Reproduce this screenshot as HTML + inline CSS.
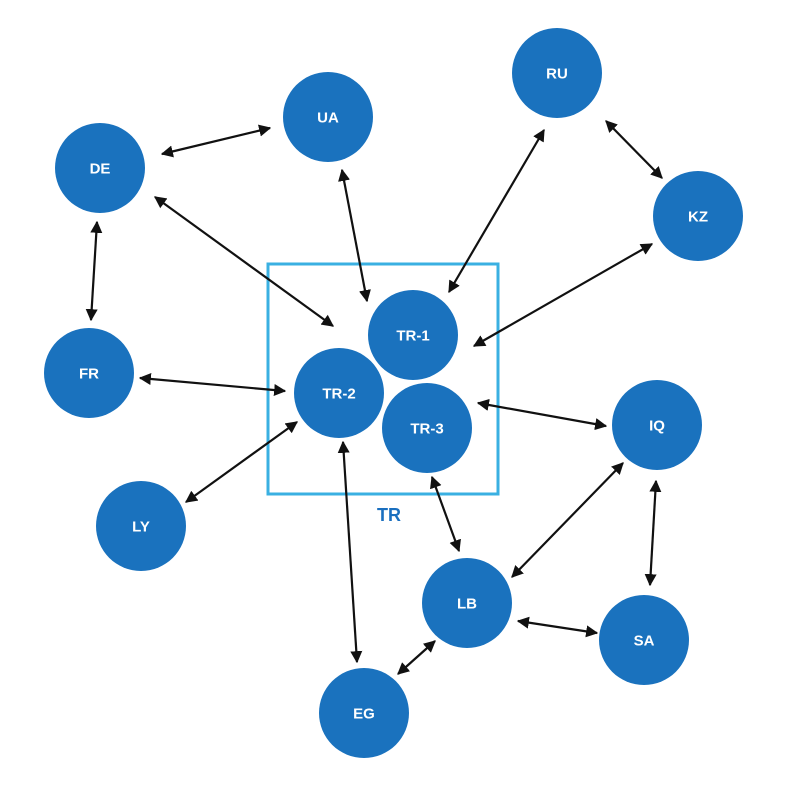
<!DOCTYPE html>
<html><head><meta charset="utf-8"><style>
html,body{margin:0;padding:0;background:#fff;}
svg{display:block;}
text{font-family:"Liberation Sans",sans-serif;font-weight:bold;font-size:15px;fill:#fff;text-anchor:middle;dominant-baseline:central;}
</style></head><body>
<svg width="790" height="790" viewBox="0 0 790 790" xmlns="http://www.w3.org/2000/svg">
<defs>
<marker id="a" viewBox="0 0 10 10" refX="9" refY="5" markerWidth="5.5" markerHeight="5.5" orient="auto-start-reverse" markerUnits="strokeWidth">
<path d="M0,0 L10,5 L0,10 z" fill="#111"/>
</marker>
</defs>
<rect x="268" y="264" width="230" height="230" fill="none" stroke="#3ab0e2" stroke-width="3"/>
<text x="389" y="515" style="fill:#1a6fbf;font-size:18px;">TR</text>
<g fill="#1a72be">
<circle cx="557" cy="73" r="45"/>
<circle cx="328" cy="117" r="45"/>
<circle cx="100" cy="168" r="45"/>
<circle cx="698" cy="216" r="45"/>
<circle cx="413" cy="335" r="45"/>
<circle cx="89" cy="373" r="45"/>
<circle cx="339" cy="393" r="45"/>
<circle cx="427" cy="428" r="45"/>
<circle cx="657" cy="425" r="45"/>
<circle cx="141" cy="526" r="45"/>
<circle cx="467" cy="603" r="45"/>
<circle cx="644" cy="640" r="45"/>
<circle cx="364" cy="713" r="45"/>
</g>
<g stroke="#111" stroke-width="2.2" marker-start="url(#a)" marker-end="url(#a)">
<line x1="162" y1="154" x2="270" y2="128"/>
<line x1="155" y1="197" x2="333" y2="326"/>
<line x1="97" y1="222" x2="91" y2="320"/>
<line x1="342" y1="170" x2="367" y2="301"/>
<line x1="544" y1="130" x2="449" y2="292"/>
<line x1="606" y1="121" x2="662" y2="178"/>
<line x1="652" y1="244" x2="474" y2="346"/>
<line x1="140" y1="378" x2="285" y2="391"/>
<line x1="186" y1="502" x2="297" y2="422"/>
<line x1="478" y1="403" x2="606" y2="426"/>
<line x1="343" y1="442" x2="357" y2="662"/>
<line x1="432" y1="477" x2="459" y2="551"/>
<line x1="623" y1="463" x2="512" y2="577"/>
<line x1="656" y1="481" x2="650" y2="585"/>
<line x1="518" y1="621" x2="597" y2="633"/>
<line x1="435" y1="641" x2="398" y2="674"/>
</g>
<g transform="translate(0,1)">
<text x="557" y="73">RU</text>
<text x="328" y="117">UA</text>
<text x="100" y="168">DE</text>
<text x="698" y="216">KZ</text>
<text x="413" y="335">TR-1</text>
<text x="89" y="373">FR</text>
<text x="339" y="393">TR-2</text>
<text x="427" y="428">TR-3</text>
<text x="657" y="425">IQ</text>
<text x="141" y="526">LY</text>
<text x="467" y="603">LB</text>
<text x="644" y="640">SA</text>
<text x="364" y="713">EG</text>
</g>
</svg>
</body></html>
